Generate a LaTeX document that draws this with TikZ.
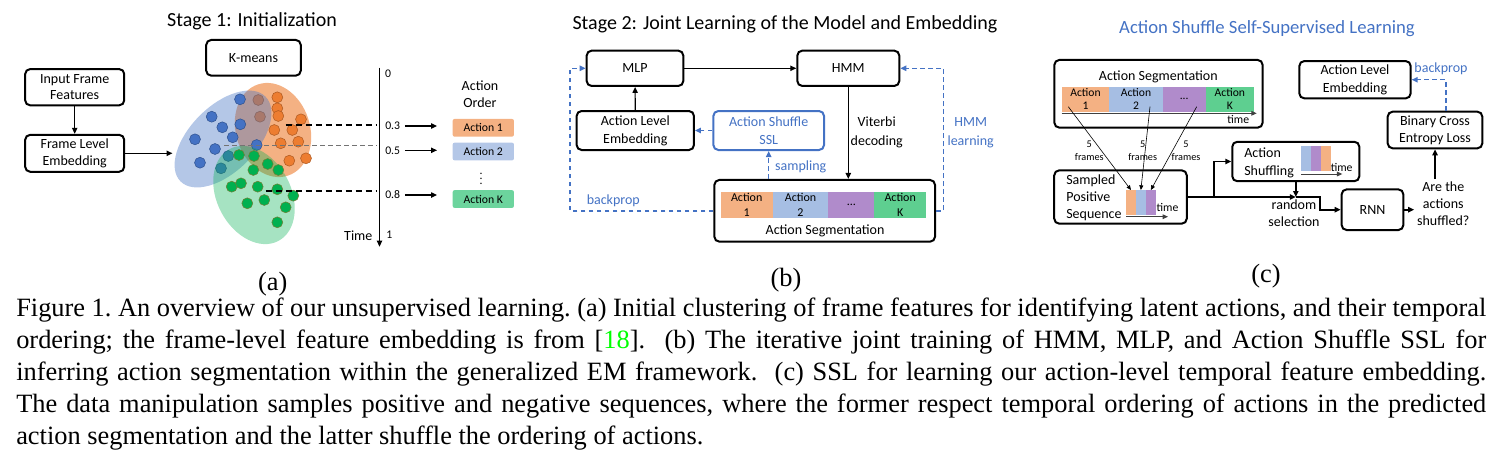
\documentclass[tikz,border=0pt]{standalone}
\usepackage{fontspec}
\setmainfont{Carlito}
\newfontfamily\capfont{Liberation Serif}
\usetikzlibrary{arrows.meta,positioning,calc}
\definecolor{ASOrange}{HTML}{F4B183}
\definecolor{ASBlue}{HTML}{A6BEE3}
\definecolor{ASBlueLight}{HTML}{B4C7E7}
\definecolor{ASPurple}{HTML}{B08BCB}
\definecolor{ASGreen}{HTML}{5ECF90}
\definecolor{ASGreenLight}{HTML}{6CD49D}
\definecolor{ASLink}{HTML}{4472C4}
\definecolor{DotBlue}{HTML}{4472C4}
\definecolor{DotBlueLine}{HTML}{2F528F}
\definecolor{DotOrange}{HTML}{ED7D31}
\definecolor{DotOrangeLine}{HTML}{AE5A21}
\definecolor{DotGreen}{HTML}{00B050}
\definecolor{DotGreenLine}{HTML}{6E7F33}
\definecolor{CiteGreen}{rgb}{0,1,0}
\newcommand\capfill[1]{\makebox[1102.5pt][s]{#1}}
\tikzset{
  flow/.style={-{Triangle[length=4.5pt,width=4pt]},black,line width=0.9pt},
  flowthick/.style={flow,line width=1.3pt},
  dflow/.style={flow,ASLink,line width=1.1pt,dash pattern=on 3.5pt off 2.5pt},
  hair/.style={-{Triangle[length=3.5pt,width=3pt]},black,line width=0.45pt},
  thinflow/.style={-{Triangle[length=4pt,width=3.5pt]},black!75,line width=0.6pt},
  cut/.style={black,line width=1.4pt,dash pattern=on 4.5pt off 3pt},
  cutthin/.style={black!55,line width=0.8pt,dash pattern=on 3.5pt off 2.5pt},
  box/.style={draw=black,line width=1.5pt,rounded corners=3.75pt,fill=white,
              align=center,inner sep=1pt,font=\fontsize{10.5}{13}\selectfont},
  boxblue/.style={box,draw=ASLink,text=ASLink},
  txt/.style={align=center,inner sep=1pt,font=\fontsize{10.5}{13}\selectfont},
  bluetxt/.style={txt,text=ASLink},
  small/.style={align=center,font=\fontsize{8.8}{10.5}\selectfont},
  tiny/.style={align=center,inner sep=0pt,font=\fontsize{7.7}{10}\selectfont},
  title/.style={inner sep=0pt,font=\fontsize{15}{18}\selectfont},
  actbox/.style={rounded corners=1.5pt,minimum width=46pt,minimum height=13.3pt,
                 inner sep=0pt,font=\fontsize{8.8}{10.5}\selectfont},
  seg/.style={minimum height=19.5pt,inner sep=0pt,outer sep=0pt,align=center,
              font=\fontsize{9}{11}\selectfont},
  segc/.style={seg,minimum height=18.75pt,font=\fontsize{8.7}{10}\selectfont},
  mini/.style={minimum height=18.75pt,inner sep=0pt,outer sep=0pt},
  dotblue/.style={fill=DotBlue,draw=DotBlueLine,line width=0.4pt},
  dotorange/.style={fill=DotOrange,draw=DotOrangeLine,line width=0.4pt},
  dotgreen/.style={fill=DotGreen,draw=DotGreenLine,line width=0.4pt},
  captext/.style={inner sep=0pt,font=\capfont\fontsize{19.8}{24}\selectfont\frenchspacing},
  capline/.style={captext,anchor=base west},
}
\begin{document}
\begin{tikzpicture}[x=.75pt,y=-.75pt]
  \useasboundingbox (0,0) rectangle (1504,454);

  % (a) stage 1
  \node[title] (stageone) at (252,21) {Stage 1: Initialization};
  \node[box,minimum width=70.9pt,minimum height=26.8pt] (kmeans) at (253.5,57.8) {K-means};
  \node[box,minimum width=74.3pt,minimum height=27.2pt,font=\fontsize{10.5}{12.5}\selectfont]
    (input) at (74.7,87.2) {Input Frame\\Features};
  \node[box,minimum width=74.3pt,minimum height=27.7pt,font=\fontsize{10.5}{12.5}\selectfont]
    (frame) at (74.7,153.3) {Frame Level\\Embedding};
  \coordinate (clin) at (172.5,153.3);
  \draw[flow] (input) -- (frame);
  \draw[flow] (frame) -- (clin);

  \fill[DotOrange,fill opacity=.6,rotate around={108:(273,130)}] (273,130) ellipse [x radius=36pt,y radius=27.75pt];
  \foreach \x/\y in {277.3/97.3,277.3/108.3,278.3/116,301/119.3,274.3/130,292.3/130,280.7/143.3,
                     298.3/141.7,289.3/160.7,306/158.3,258.3/100,260/116.7}
    \filldraw[dotorange] (\x,\y) circle [radius=4.1pt];
  \fill[DotBlue,fill opacity=.4,rotate around={45:(223,139)}] (223,139) ellipse [x radius=45pt,y radius=24.75pt];
  \foreach \x/\y in {240/99.3,211.7/116.7,222.3/127.3,240.3/124.3,232.7/137.3,195/139.3,
                     215/149,256.7/145,200/162.7,221/168.3,228.3/156}
    \filldraw[dotblue] (\x,\y) circle [radius=4.1pt];
  \fill[DotGreen,fill opacity=.35,rotate around={118:(254,195)}] (254,195) ellipse [x radius=39pt,y radius=27.75pt];
  \foreach \x/\y in {239/155,254/156,267.7/164,278.3/170,253.3/170,231.7/186.7,241/183.3,
                     257.7/186.7,277.3/189.3,293.3/195.7,247.3/203.3,264.3/200,285.7/207.3,277.3/222.3}
    \filldraw[dotgreen] (\x,\y) circle [radius=4.1pt];

  \coordinate (ttop) at (379.5,67.7);
  \coordinate (tbot) at (379.5,246.7);
  \draw[flow] (ttop) -- (tbot);
  \coordinate (done) at (285.7,125);
  \coordinate (dtwo) at (224,145.5);
  \coordinate (dthree) at (265.7,190.7);
  \draw[cut,shorten >=2.5pt] (done) -- (done -| ttop);
  \draw[cutthin,shorten >=2.5pt] (dtwo) -- (dtwo -| ttop);
  \draw[cut,shorten >=2.5pt] (dthree) -- (dthree -| ttop);

  \node[small] (tzero) at (388,74) {0};
  \node[small] (tthree) at (392.7,126) {0.3};
  \node[small] (tfive) at (392.7,150.3) {0.5};
  \node[small] (teight) at (392.7,195) {0.8};
  \node[small] (tone) at (389.3,234.3) {1};
  \node[txt] (tlabel) at (358.3,235.7) {Time};

  \node[txt,font=\fontsize{10.5}{12.5}\selectfont] (order) at (480,94) {Action\\Order};
  \node[actbox,fill=ASOrange] (actone) at (483.3,127.8) {Action 1};
  \node[actbox,fill=ASBlueLight] (acttwo) at (483.3,151.5) {Action 2};
  \node[small] (actdots) at (481,175) {$\vdots$};
  \node[actbox,fill=ASGreenLight] (actk) at (483.3,199) {Action K};
  \draw[flow,shorten >=11.5pt] (tthree.east) -- (tthree.east -| actone.west);
  \draw[flow,shorten >=11.5pt] (tfive.east) -- (tfive.east -| acttwo.west);
  \draw[flow,shorten >=11.5pt] (teight.east) -- (teight.east -| actk.west);

  % (b) stage 2
  \node[title] (stagetwo) at (785,24) {Stage 2: Joint Learning of the Model and Embedding};
  \node[box,minimum width=72.5pt,minimum height=26.5pt] (mlp) at (635,68.3) {MLP};
  \node[box,minimum width=76.5pt,minimum height=26.5pt] (hmm) at (848.3,68.3) {HMM};
  \node[box,minimum width=88pt,minimum height=29.25pt,font=\fontsize{10.5}{13.7}\selectfont]
    (alev) at (635.3,130.5) {Action Level\\Embedding};
  \node[boxblue,minimum width=83pt,minimum height=29.25pt,font=\fontsize{10.5}{13.7}\selectfont]
    (ssl) at (768.7,130.5) {Action Shuffle\\SSL};
  \node[box,minimum width=165.5pt,minimum height=46.3pt] (segb) at (824.7,210.8) {};
  \node[seg,fill=ASOrange,minimum width=39pt] (sbone) at (746.7,204.7) {Action\\1};
  \node[seg,fill=ASBlue,minimum width=41.7pt] (sbtwo) at (800.5,204.7) {Action\\2};
  \node[seg,fill=ASPurple,minimum width=34.5pt] (sbdots) at (851.3,204.7) {...};
  \node[seg,fill=ASGreen,minimum width=38.8pt] (sbk) at (900.2,204.7) {Action\\K};
  \node[txt] (segblab) at (825,231) {Action Segmentation};

  \draw[flow] (mlp) -- (hmm);
  \draw[flow] (alev) -- (mlp);
  \draw[dflow] (ssl) -- (alev);
  \draw[dflow] (segb.north -| ssl) -- (ssl.south);
  \node[bluetxt] (samplab) at (800.7,166.7) {sampling};
  \draw[flow] (hmm.south) -- (hmm.south |- segb.north);
  \node[txt,font=\fontsize{10.5}{14.2}\selectfont] (vitlab) at (876.7,132) {Viterbi\\decoding};
  \coordinate (bpturn) at (570,68.3);
  \draw[dflow] (segb.west) -| (bpturn) -- (mlp.west);
  \node[bluetxt] (bplab) at (613.3,201) {backprop};
  \coordinate (hlturn) at (943.3,68.3);
  \draw[dflow] (segb.east) -| (hlturn) -- (hmm.east);
  \node[bluetxt,font=\fontsize{10.5}{14.2}\selectfont] (hllab) at (970.7,132.8) {HMM\\learning};

  % (c) action shuffle SSL
  \node[title,text=ASLink,font=\fontsize{14}{17}\selectfont] (ssltitle) at (1267,28.3)
    {Action Shuffle Self-Supervised Learning};
  \node[box,minimum width=156.2pt,minimum height=50.8pt] (segc) at (1158.5,93.8) {};
  \node[txt] (segclab) at (1158.3,76.7) {Action Segmentation};
  \node[segc,fill=ASOrange,minimum width=35.7pt] (scone) at (1085.5,99.2) {Action\\1};
  \node[segc,fill=ASBlue,minimum width=40pt] (sctwo) at (1136,99.2) {Action\\2};
  \node[segc,fill=ASPurple,minimum width=32.25pt] (scdots) at (1184.2,99.2) {...};
  \node[segc,fill=ASGreen,minimum width=36.2pt] (sck) at (1229.85,99.2) {Action\\K};
  \coordinate (tcstart) at (1061.7,113.3);
  \coordinate (tcend) at (1256.7,113.3);
  \draw[thinflow] (tcstart) -- (tcend);
  \node[small,inner sep=0pt] (tclab) at (1238.3,119) {time};

  \node[box,minimum width=99.4pt,minimum height=40pt] (sps) at (1120.5,197) {};
  \node[txt,align=left,anchor=west,font=\fontsize{10.5}{12.6}\selectfont] (spslab) at (1064.7,197.5)
    {Sampled\\Positive\\Sequence};
  \node[mini,fill=ASOrange,minimum width=7.5pt] (pone) at (1131,202.5) {};
  \node[mini,fill=ASBlue,minimum width=7.3pt] (ptwo) at (1140.85,202.5) {};
  \node[mini,fill=ASPurple,minimum width=7.7pt] (pthree) at (1150.85,202.5) {};
  \coordinate (psa) at (1126,216.7);
  \coordinate (psb) at (1168,216.7);
  \draw[thinflow] (psa) -- (psb);
  \node[small,inner sep=0pt] (pslab) at (1167.5,207.5) {time};

  \coordinate (fone) at (1068.3,106.7);
  \coordinate (ftwo) at (1150,106.7);
  \coordinate (fthree) at (1196.7,106.7);
  \draw[hair] (fone) -- (pone.north);
  \draw[hair] (ftwo) -- (ptwo.north);
  \draw[hair] (fthree) -- (pthree.north);
  \node[tiny] (flone) at (1089.3,151) {5\\frames};
  \node[tiny] (fltwo) at (1142.7,151) {5\\frames};
  \node[tiny] (flthree) at (1186,151) {5\\frames};

  \node[box,minimum width=95.3pt,minimum height=29.6pt] (shuf) at (1295.8,161.5) {};
  \node[txt,align=left,anchor=west,font=\fontsize{10.5}{13.5}\selectfont] (shuflab) at (1242.7,162.7)
    {Action\\Shuffling};
  \node[mini,fill=ASBlue,minimum width=7.3pt,minimum height=18.5pt] (qone) at (1305.85,158.3) {};
  \node[mini,fill=ASPurple,minimum width=7.5pt,minimum height=18.5pt] (qtwo) at (1315.7,158.3) {};
  \node[mini,fill=ASOrange,minimum width=7.5pt,minimum height=18.5pt] (qthree) at (1325.7,158.3) {};
  \coordinate (qsa) at (1301,174);
  \coordinate (qsb) at (1342.3,174);
  \draw[thinflow] (qsa) -- (qsb);
  \node[small,inner sep=0pt] (qslab) at (1341.7,167.3) {time};

  \node[box,minimum width=46.3pt,minimum height=30.5pt] (rnn) at (1372.5,209.7) {RNN};
  \node[txt,inner sep=2pt,font=\fontsize{10.5}{12.8}\selectfont] (ask) at (1443.3,204)
    {Are the\\actions\\shuffled?};
  \node[box,minimum width=71pt,minimum height=27.5pt,font=\fontsize{10.5}{12.8}\selectfont]
    (bce) at (1435,130) {Binary Cross\\Entropy Loss};
  \node[box,minimum width=83.5pt,minimum height=28pt,font=\fontsize{10.5}{13.2}\selectfont]
    (alec) at (1355,79.7) {Action Level\\Embedding};

  \coordinate (sel) at (shuf.south |- sps.east);
  \coordinate (brn) at (1214,197);
  \coordinate (rbend) at (1320,197);
  \draw[flowthick] (sps.east) -- (sel);
  \draw[flowthick] (brn) |- (shuf.west);
  \draw[flowthick] (shuf.south) -- (sel);
  \draw[flowthick] (sel) -- (rbend) |- (rnn.west);
  \node[txt] (randlab) at (1294,213) {random\\selection};
  \draw[flowthick] (rnn.east) -- (rnn.east -| ask.west);
  \draw[flowthick,line width=1.5pt] (bce.south |- ask.north) -- (bce.south);
  \draw[dflow] ([xshift=8.25pt]bce.north) |- (alec.east);
  \node[bluetxt] (bpclab) at (1441,68.3) {backprop};

  % caption
  \node[captext] (suba) at (272.7,284) {(a)};
  \node[captext] (subb) at (786,280) {(b)};
  \node[captext] (subc) at (1266,276) {(c)};
  \node[capline] (capone) at (16,316.7) {\capfill{Figure 1. An overview of our unsupervised learning. (a) Initial clustering of frame features for identifying latent actions, and their temporal}};
  \node[capline] (captwo) at (16,348.7) {\capfill{ordering; the frame-level feature embedding is from [\textcolor{CiteGreen}{18}].\ \ (b) The iterative joint training of HMM, MLP, and Action Shuffle SSL for}};
  \node[capline] (capthree) at (16,380.7) {\capfill{inferring action segmentation within the generalized EM framework.\ \ (c) SSL for learning our action-level temporal feature embedding.}};
  \node[capline] (capfour) at (16,412.7) {\capfill{The data manipulation samples positive and negative sequences, where the former respect temporal ordering of actions in the predicted}};
  \node[capline] (capfive) at (16,444.7) {action segmentation and the latter shuffle the ordering of actions.};
\end{tikzpicture}
\end{document}
